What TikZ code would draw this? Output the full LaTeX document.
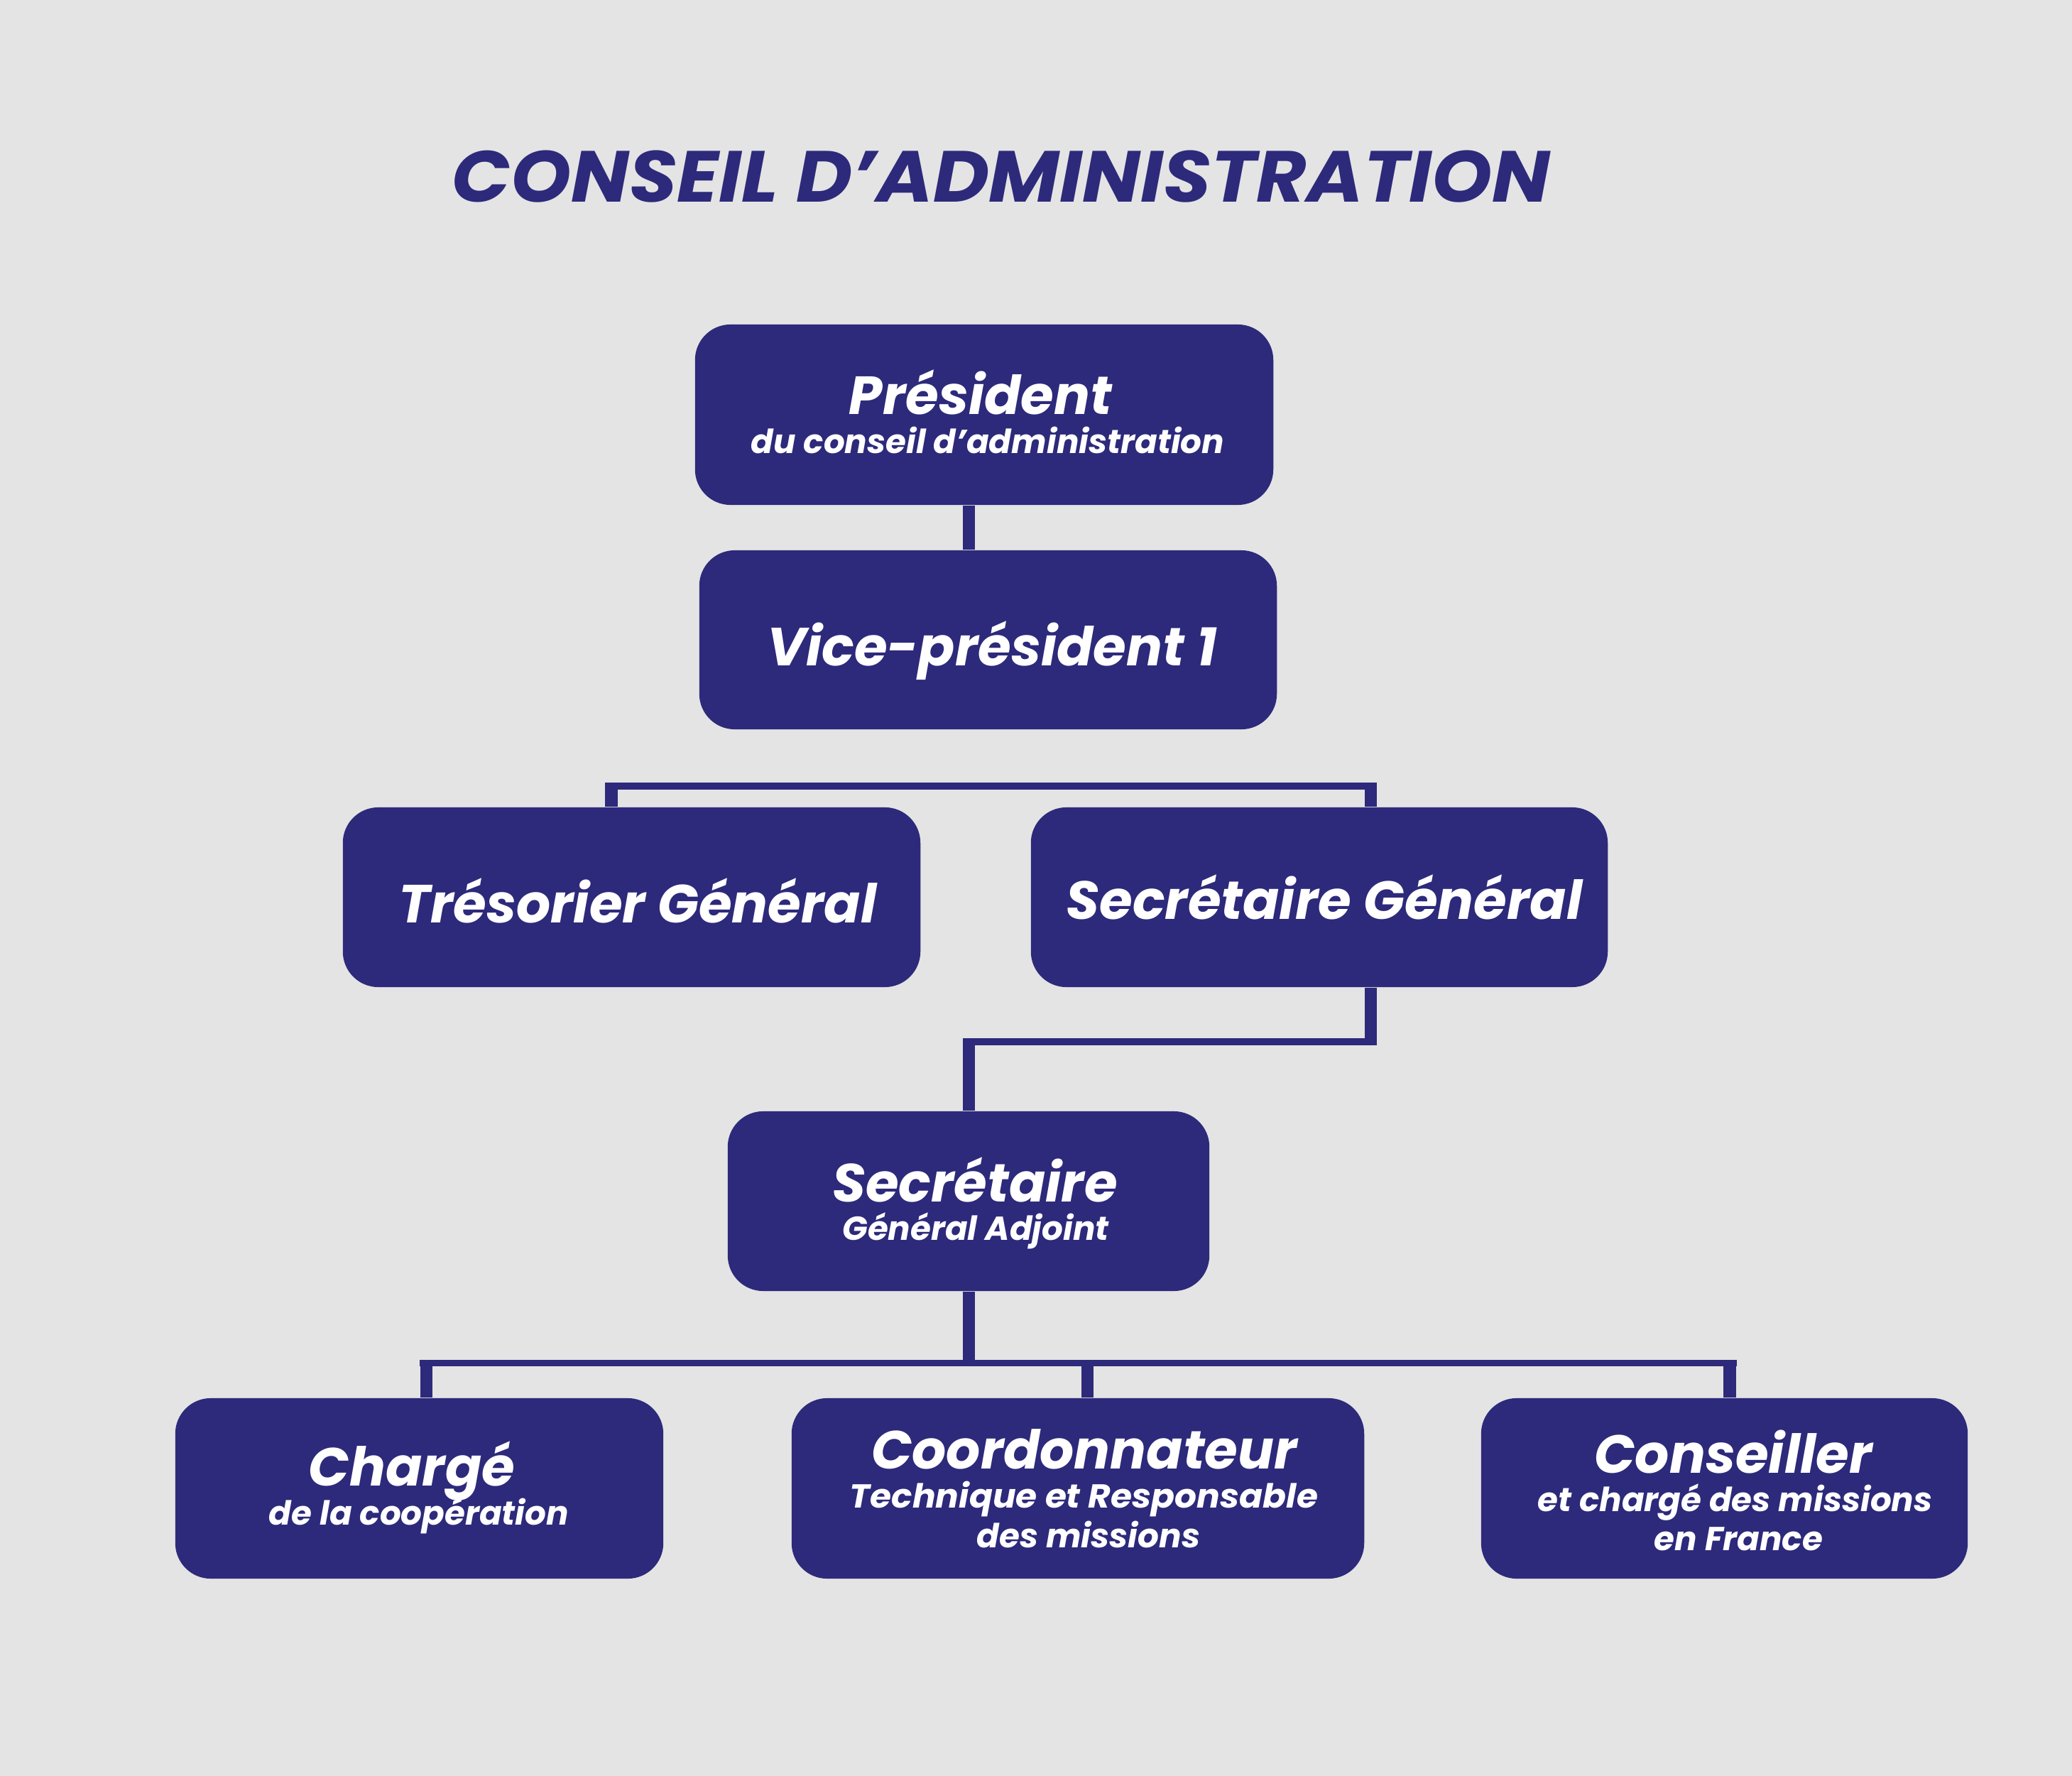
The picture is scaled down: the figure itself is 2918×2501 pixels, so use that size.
\documentclass[tikz,border=0pt]{standalone}
\usepackage{fontspec}
\setmainfont{Poppins}
\definecolor{navy}{HTML}{2D2A7B}
\definecolor{bg}{HTML}{E4E4E4}
\begin{document}
\begin{tikzpicture}[x=0.01cm,y=-0.01cm,
  box/.style={draw=none,fill=navy,rounded corners=0.5cm,inner sep=0pt,minimum width=#1},
  box/.default=8cm,
  big/.style={anchor=base,inner sep=0pt,text=white,font=\fontsize{21.5}{24}\selectfont\bfseries\itshape},
  small/.style={anchor=base,inner sep=0pt,text=white,font=\fontsize{13.3}{16}\selectfont\bfseries\itshape},
  vline/.style={draw=navy,line width=5.1pt},
  hline/.style={draw=navy,line width=2.8pt}]
\fill[bg] (0,0) rectangle (2918,2501);
\useasboundingbox (0,0) rectangle (2918,2501);
% title
\node[anchor=base,inner sep=0pt,text=navy,font=\fontsize{29}{32}\selectfont\bfseries\itshape] (title) at (1410,285) {\scalebox{1.064}[1]{CONSEIL D’ADMINISTRATION}};
% boxes
\node[box=8.14cm,minimum height=2.54cm] (pres) at (1386,584) {};
\node[box=8.13cm,minimum height=2.52cm] (vp) at (1391.5,901) {};
\node[box=8.13cm,minimum height=2.53cm] (tres) at (889.5,1263.5) {};
\node[box=8.12cm,minimum height=2.53cm] (sg) at (1858,1263.5) {};
\node[box=6.78cm,minimum height=2.53cm] (sga) at (1364,1691.5) {};
\node[box=6.87cm,minimum height=2.54cm] (b1) at (590.5,2096) {};
\node[box=8.06cm,minimum height=2.54cm] (b2) at (1518,2096) {};
\node[box=6.85cm,minimum height=2.54cm] (b3) at (2428.5,2096) {};
% texts
\node[big] (t1) at (1381,584) {Président};
\node[small] (t1b) at (1391,639) {du conseil d’administration};
\node[big] (t2) at (1397,937.5) {Vice-président 1};
\node[big] (t3) at (898,1299) {Trésorier Général};
\node[big] (t4) at (1865,1294) {Secrétaire Général};
\node[big] (t5) at (1373,1692) {Secrétaire};
\node[small] (t5b) at (1374,1746) {Général Adjoint};
\node[big] (t6) at (580,2092) {Chargé};
\node[small] (t6b) at (590,2147) {de la coopération};
\node[big] (t7) at (1527,2068) {Coordonnateur};
\node[small] (t7b) at (1526.5,2123) {\scalebox{1.04}[1]{Technique et Responsable}};
\node[small] (t7c) at (1533,2179) {des missions};
\node[big] (t8) at (2441,2074) {Conseiller};
\node[small] (t8b) at (2443.5,2128) {et chargé des missions};
\node[small] (t8c) at (2448.5,2183) {en France};
% connector junctions
\coordinate (h1l) at (852,1107);
\coordinate (h1r) at (1939,1107);
\coordinate (h1a) at (861,1102);
\coordinate (h1b) at (1930.5,1102);
\coordinate (h2r) at (1939,1467);
\coordinate (h2l) at (1356,1467);
\coordinate (h2a) at (1930.5,1471.5);
\coordinate (h2b) at (1364.5,1462.5);
\coordinate (h3l) at (591,1919.5);
\coordinate (h3r) at (2446,1919.5);
\coordinate (h3c) at (1364.5,1924);
\coordinate (h3a) at (600.5,1915);
\coordinate (h3b) at (1531.5,1915);
\coordinate (h3d) at (2436,1915);
% connectors
\draw[vline] (pres.south -| h2b) -- (vp.north -| h2b);
\draw[hline] (h1l) -- (h1r);
\draw[vline] (h1a) -- (tres.north -| h1a);
\draw[vline] (h1b) -- (sg.north -| h1b);
\draw[vline] (sg.south -| h2a) -- (h2a);
\draw[hline] (h2r) -- (h2l);
\draw[vline] (h2b) -- (sga.north -| h2b);
\draw[vline] (sga.south -| h3c) -- (h3c);
\draw[hline] (h3l) -- (h3r);
\draw[vline] (h3a) -- (b1.north -| h3a);
\draw[vline] (h3b) -- (b2.north -| h3b);
\draw[vline] (h3d) -- (b3.north -| h3d);
\end{tikzpicture}
\end{document}
